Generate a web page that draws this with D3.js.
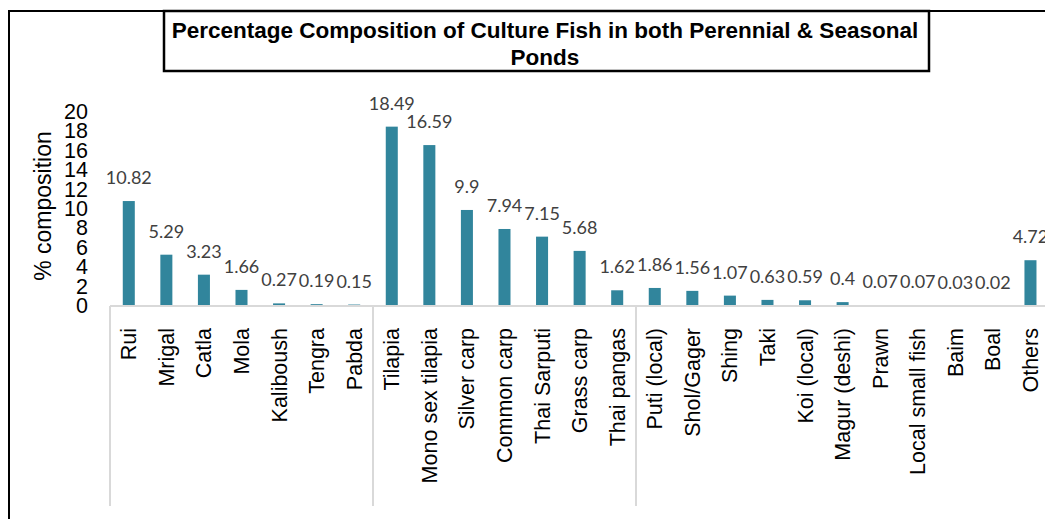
<!DOCTYPE html>
<html lang="en">
<head>
<meta charset="UTF-8">
<title>Culture fish composition</title>
<script src="https://cdn.jsdelivr.net/npm/d3@7"></script>
<style>
  body { margin: 0; background: #fff; }
  svg { display: block; }
</style>
</head>
<body>
<svg></svg>
<script>
// data
const categories = ['Rui', 'Mrigal', 'Catla', 'Mola', 'Kaliboush', 'Tengra', 'Pabda',
    'Tilapia', 'Mono sex tilapia', 'Silver carp', 'Common carp', 'Thai Sarputi', 'Grass carp', 'Thai pangas',
    'Puti (local)', 'Shol/Gager', 'Shing', 'Taki', 'Koi (local)', 'Magur (deshi)', 'Prawn',
    'Local small fish', 'Baim', 'Boal', 'Others'];
const values = [10.82, 5.29, 3.23, 1.66, 0.27, 0.19, 0.15,
    18.49, 16.59, 9.9, 7.94, 7.15, 5.68, 1.62,
    1.86, 1.56, 1.07, 0.63, 0.59, 0.4, 0.07,
    0.07, 0.03, 0.02, 4.72];
// first category of each group (separators drawn below the axis)
const groupStarts = ['Rui', 'Tilapia', 'Puti (local)'];
const yTicks = [0, 2, 4, 6, 8, 10, 12, 14, 16, 18, 20];
const titleLines = ['Percentage Composition of Culture Fish in both Perennial & Seasonal', 'Ponds'];

const width = 1045, height = 519;
const x0 = 110, step = 37.57, y0 = 306;

const svg = d3.select('svg')
    .attr('width', width)
    .attr('height', height);

const x = d3.scaleBand()
    .domain(categories)
    .range([x0, x0 + step * categories.length])
    .paddingInner(0.68)
    .paddingOuter(0.34);

const y = d3.scaleLinear()
    .domain([0, 20])
    .range([y0, 112]);

const gap = (x.step() - x.bandwidth()) / 2;

// outer chart border (only left and top are visible)
svg.append('path')
    .attr('d', `M9,${height} V11 H${width}`)
    .attr('fill', 'none')
    .attr('stroke', '#000')
    .attr('stroke-width', 2);

// title box
svg.append('rect')
    .attr('x', 164)
    .attr('y', 11)
    .attr('width', 765)
    .attr('height', 60)
    .attr('fill', '#fff')
    .attr('stroke', '#000')
    .attr('stroke-width', 2.5);

svg.append('g')
    .selectAll('text')
    .data(titleLines)
    .join('text')
    .attr('x', 545)
    .attr('y', (d, i) => 38 + i * 26.5)
    .attr('text-anchor', 'middle')
    .attr('font-family', 'Liberation Sans, Arial, sans-serif')
    .attr('font-weight', 'bold')
    .attr('font-size', 22.5)
    .text(d => d);

// y tick labels (no axis line)
svg.append('g')
    .selectAll('text')
    .data(yTicks)
    .join('text')
    .attr('x', 88)
    .attr('y', d => y(d))
    .attr('dy', '0.33em')
    .attr('text-anchor', 'end')
    .attr('font-family', 'Liberation Sans, Arial, sans-serif')
    .attr('font-size', 21.5)
    .attr('fill', '#000')
    .text(d => d);

svg.append('text')
    .attr('transform', `translate(51, ${(y(0) + y(20)) / 2 - 3}) rotate(-90)`)
    .attr('text-anchor', 'middle')
    .attr('font-family', 'Liberation Sans, Arial, sans-serif')
    .attr('font-size', 23)
    .text('% composition');

// bars
svg.append('g')
    .selectAll('rect')
    .data(categories)
    .join('rect')
    .attr('x', d => x(d))
    .attr('y', (d, i) => y(values[i]))
    .attr('width', x.bandwidth())
    .attr('height', (d, i) => y(0) - y(values[i]))
    .attr('fill', '#31859c');

// data labels
svg.append('g')
    .selectAll('text')
    .data(categories)
    .join('text')
    .attr('x', d => x(d) + x.bandwidth() / 2)
    .attr('y', (d, i) => y(values[i]) - 17)
    .attr('text-anchor', 'middle')
    .attr('font-family', 'Lato, sans-serif')
    .attr('font-size', 18)
    .attr('fill', '#404040')
    .text((d, i) => values[i]);

// category axis line and group separators
svg.append('line')
    .attr('x1', x0)
    .attr('x2', width)
    .attr('y1', y0)
    .attr('y2', y0)
    .attr('stroke', '#d9d9d9')
    .attr('stroke-width', 2);

svg.append('g')
    .selectAll('line')
    .data(groupStarts)
    .join('line')
    .attr('x1', d => x(d) - gap)
    .attr('x2', d => x(d) - gap)
    .attr('y1', y0)
    .attr('y2', 506)
    .attr('stroke', '#d9d9d9')
    .attr('stroke-width', 2);

// category labels, rotated
svg.append('g')
    .selectAll('text')
    .data(categories)
    .join('text')
    .attr('transform', d => `translate(${x(d) + x.bandwidth() / 2}, 328) rotate(-90)`)
    .attr('dy', '0.35em')
    .attr('text-anchor', 'end')
    .attr('font-family', 'Liberation Sans, Arial, sans-serif')
    .attr('font-size', 21.5)
    .attr('fill', '#000')
    .text(d => d);
</script>
</body>
</html>
